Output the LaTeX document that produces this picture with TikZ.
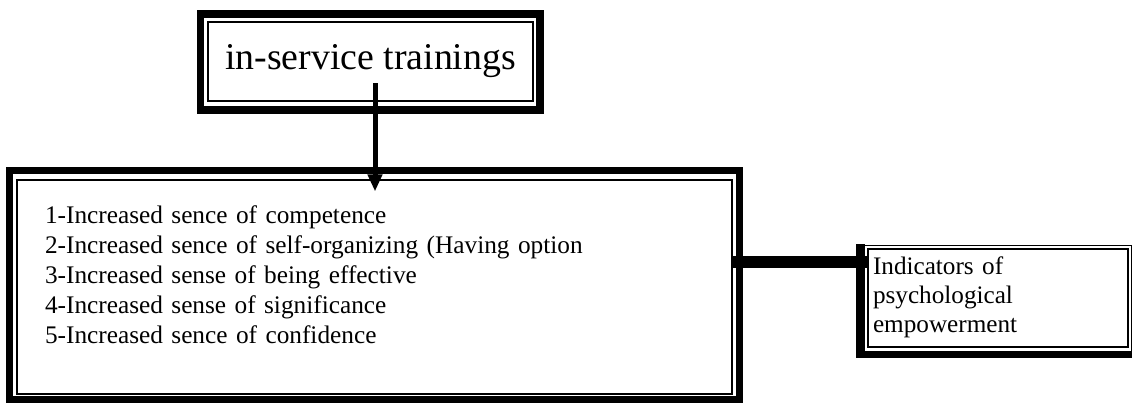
\documentclass[tikz,border=0pt]{standalone}
\usepackage{fontspec}
\setmainfont{Liberation Serif}
\usetikzlibrary{arrows.meta, positioning}

\begin{document}
\begin{tikzpicture}[
    x=1pt, y=-1pt,
    frame/.style={rectangle, draw, line width=1.2pt, inner sep=0pt},
    heavy/.style={line width=7.5pt},
    arrow/.style={-{Triangle[length=17pt, width=14pt]}, line width=5pt},
    bar/.style={line width=12pt},
]
\useasboundingbox (0,0) rectangle (1132,402);
\fill[white] (0,0) rectangle (1132,402);

% Trainings box
\node[frame, minimum width=325pt, minimum height=79pt, font=\fontsize{37.8}{45}\selectfont] (training) at (370.5,61.5) {in-service trainings};
\draw[heavy] ([shift={(-7,-7.5)}]training.north west) rectangle ([shift={(6.5,8.5)}]training.south east);

% Effects box
\node[frame, text width=659pt, inner xsep=28pt, minimum height=214pt, align=left, text depth=145pt, font=\fontsize{25.3}{30}\selectfont] (effects) at (374.5,287) {1-Increased sence of competence\\2-Increased sence of self-organizing (Having option\\3-Increased sense of being effective\\4-Increased sense of significance\\5-Increased sence of confidence};
\draw[heavy, line width=7pt] ([shift={(-6.5,-8.5)}]effects.north west) rectangle ([shift={(7,4.5)}]effects.south east);

% Indicators box
\node[frame, text width=250pt, inner xsep=5pt, minimum height=98pt, align=left, text depth=64pt, font=\fontsize{25.2}{29}\selectfont] (indicators) at (998,298) {Indicators of\\psychological\\empowerment};
\draw[line width=1.2pt] ([shift={(-7,-3)}]indicators.north west) -| ([shift={(3,6)}]indicators.south east);
\draw[line width=9pt] ([shift={(-6.5,-4)}]indicators.north west) -- ([shift={(-6.5,10)}]indicators.south west);
\draw[line width=7pt] ([shift={(-11,6.5)}]indicators.south west) -- ([shift={(4,6.5)}]indicators.south east);

% Connectors
\coordinate (arrowtop) at (375,83);
\coordinate (joint) at ([shift={(0,-36)}]indicators.west);
\draw[arrow] (arrowtop) -- ([shift={(0,12)}]arrowtop |- effects.north);
\draw[bar] (effects.east |- joint) -- (joint);

\end{tikzpicture}
\end{document}
